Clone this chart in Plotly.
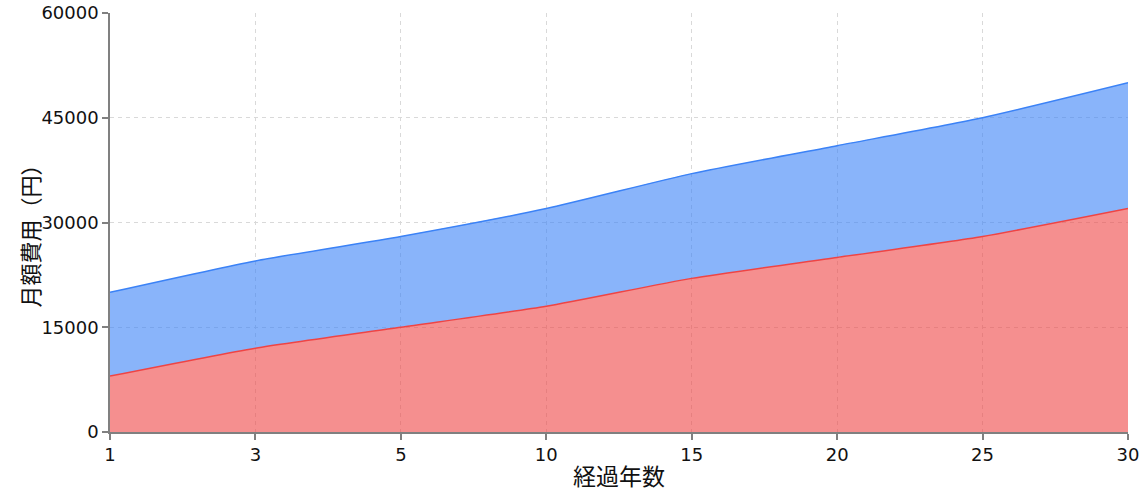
import plotly.graph_objects as go

years = ["1", "3", "5", "10", "15", "20", "25", "30"]
cost_red = [8000, 12000, 15000, 18000, 22000, 25000, 28000, 32000]
cost_blue = [12000, 12500, 13000, 14000, 15000, 16000, 17000, 18000]
y_ticks = [0, 15000, 30000, 45000, 60000]

FONT = "Noto Sans CJK JP"
TICKFONT = "DejaVu Sans"

fig = go.Figure()
fig.add_trace(go.Scatter(
    x=years, y=cost_red, stackgroup="one", mode="lines",
    line=dict(color="#ef4444", width=1.5, shape="spline", smoothing=0.6),
    fillcolor="rgba(239,68,68,0.6)", name="A", hoverinfo="x+y"))
fig.add_trace(go.Scatter(
    x=years, y=cost_blue, stackgroup="one", mode="lines",
    line=dict(color="#3b82f6", width=1.5, shape="spline", smoothing=0.6),
    fillcolor="rgba(59,130,246,0.6)", name="B", hoverinfo="x+y"))

axis_common = dict(
    showgrid=True, gridcolor="#d9d9d9", griddash="4px,4px", gridwidth=1,
    showline=True, linecolor="#808080", linewidth=1.5,
    ticks="outside", ticklen=6, tickcolor="#808080", tickwidth=1.5,
    tickfont=dict(size=18, family=TICKFONT, color="#111"),
    zeroline=False, ticklabeloverflow="allow", automargin=False,
)

fig.update_layout(
    width=1144, height=492,
    margin=dict(l=110, r=16, t=13, b=60),
    paper_bgcolor="white", plot_bgcolor="white",
    showlegend=False,
    font=dict(family=FONT, color="#111", size=16),
    xaxis=dict(
        type="category", range=[0, 7],
        title=dict(text="経過年数", font=dict(size=23, family=FONT, color="#111"), standoff=6),
        **axis_common,
    ),
    yaxis=dict(
        range=[0, 60000], tickvals=y_ticks, ticktext=[str(v) for v in y_ticks],
        **axis_common,
    ),
    annotations=[dict(
        text="月額費用（円）", textangle=-90, showarrow=False,
        xref="paper", yref="paper", x=0, y=0.5, xanchor="center", yanchor="middle",
        xshift=-82, yshift=-8, font=dict(size=22, family=FONT, color="#111"),
    )],
)

fig.write_html("out.html", config={"displayModeBar": False},
               post_script="document.body.style.margin='0';")
